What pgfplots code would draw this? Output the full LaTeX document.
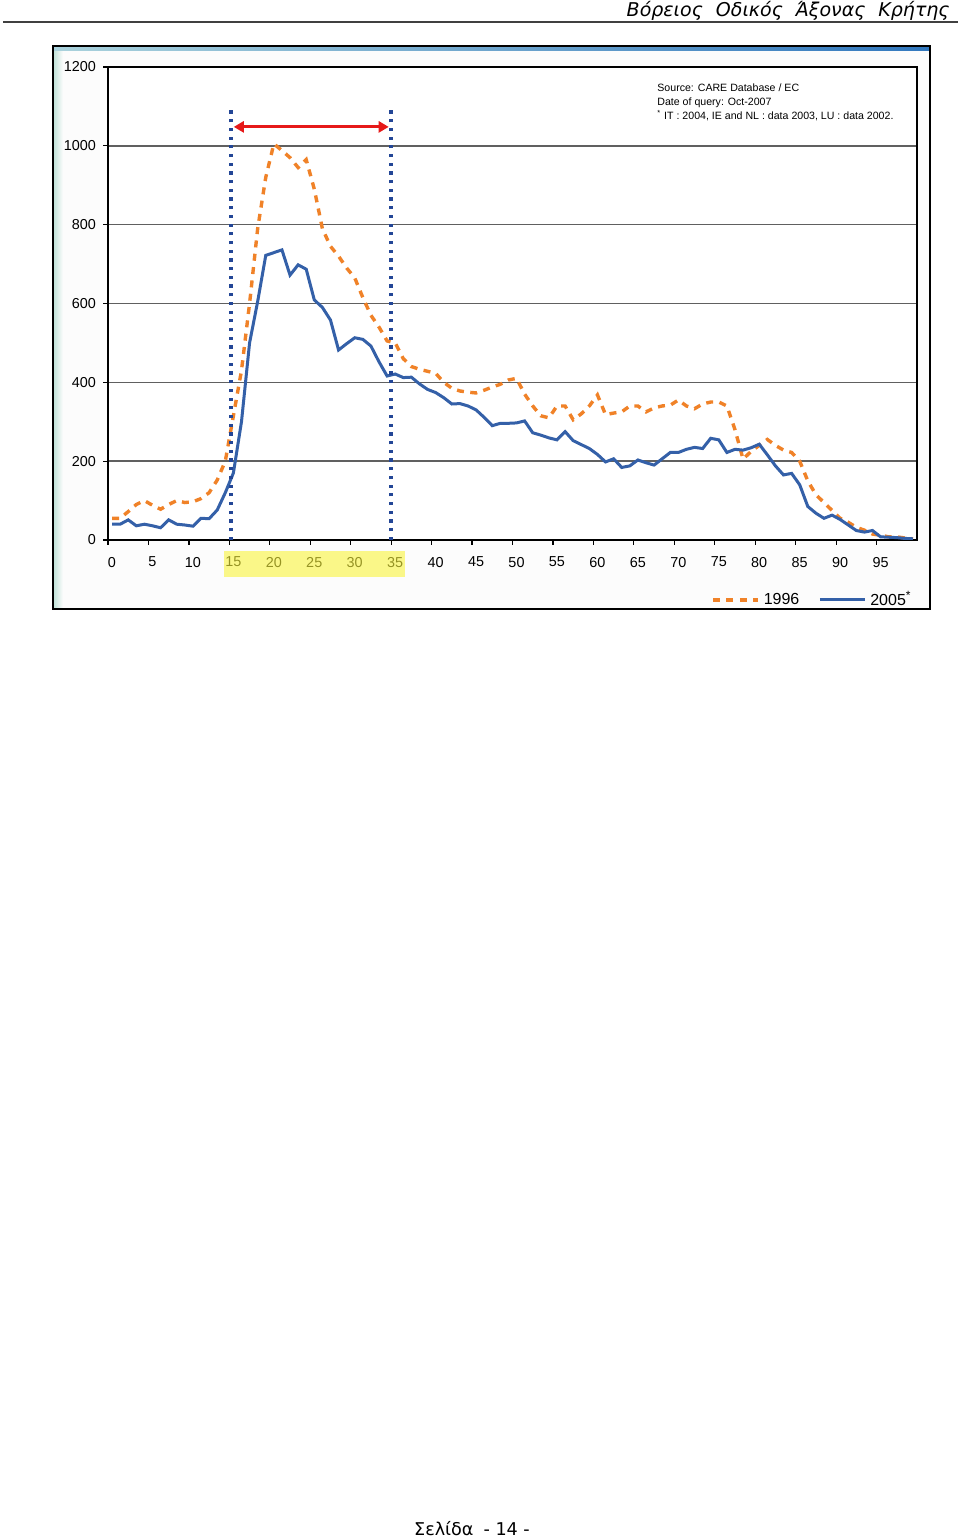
\documentclass[border=0pt]{standalone}
\usepackage{fontspec}
\setmainfont{Liberation Sans}
\newfontfamily\dejavu{DejaVu Sans}
\usepackage{pgfplots}
\pgfplotsset{compat=1.18}
\usetikzlibrary{arrows.meta}
\definecolor{blueline}{RGB}{52,96,168}
\definecolor{orangeline}{RGB}{240,130,40}
\definecolor{dotblue}{RGB}{35,70,150}
\definecolor{arrowred}{RGB}{230,25,25}
\definecolor{barL}{RGB}{170,210,220}
\definecolor{barR}{RGB}{50,120,190}
\definecolor{stripL}{RGB}{195,228,218}
\definecolor{hl}{RGB}{250,245,60}
\begin{document}
\begin{tikzpicture}[x=0.5pt,y=0.5pt]
\fill[white] (0,0) rectangle (960,1540);
% page header
\node[anchor=base east, inner sep=0pt, font=\dejavu\itshape\fontsize{9.5}{11}\selectfont] at (950,1523) {Βόρειος\hspace{6.5pt}Οδικός\hspace{6.5pt}Άξονας\hspace{6.5pt}Κρήτης};
\draw[line width=0.7pt, black!75] (3,1518) -- (958,1518);
% chart frame
\fill[white!98!gray] (53,931) rectangle (930,1494);
\shade[left color=stripL, right color=white!98!gray] (54,932) rectangle (63,1489);
\shade[left color=barL, right color=barR] (54,1489) rectangle (929,1494);
\draw[line width=0.6pt] (53,931) rectangle (930,1494);
\begin{axis}[
  at={(54pt,500pt)}, anchor=south west,
  scale only axis, width=404.5pt, height=236.5pt,
  xmin=0, xmax=100, ymin=0, ymax=1200,
  axis background/.style={fill=white},
  axis line style={line width=0.8pt, black},
  xtick={0,5,...,95}, ytick={0,200,...,1200},
  tick align=outside, major tick length=2.5pt,
  tick style={black, line width=0.6pt},
  xtick pos=bottom, ytick pos=left,
  ymajorgrids, grid style={line width=0.8pt, gray!75!black},
  ticklabel style={font=\fontsize{7.2}{8}\selectfont},
  /pgf/number format/assume math mode=true,
  /pgf/number format/1000 sep={},
  xticklabel style={xshift=2pt, yshift=-2.5pt},
  legend style={at={(axis description cs:1,0)}, anchor=east, yshift=-30pt, xshift=-0.5pt,
    draw=none, fill=none, inner sep=0pt, font=\fontsize{8}{9}\selectfont,
    /tikz/every even column/.append style={column sep=7.5pt}},
  legend columns=2, legend cell align=left,
  legend image code/.code={\draw[#1] (0pt,0pt) -- (22.5pt,0pt);},
]
\addplot[orangeline, line width=1.7pt, dash pattern=on 3.5pt off 3.2pt] coordinates {
(0.5,55)(1.5,55)(2.5,72)(3.5,90)(4.5,100)(5.5,88)(6.5,78)(7.5,90)(8.5,100)(9.5,95)
(10.5,97)(11.5,105)(12.5,120)(13.5,152)(14.5,200)(15.5,315)(16.5,430)(17.5,600)(18.5,790)(19.5,920)
(20.5,1005)(21.5,988)(22.5,970)(23.5,945)(24.5,965)(25.5,890)(26.5,790)(27.5,745)(28.5,720)(29.5,690)
(30.5,665)(31.5,615)(32.5,570)(33.5,540)(34.5,505)(35.5,500)(36.5,460)(37.5,440)(38.5,433)(39.5,428)
(40.5,423)(41.5,400)(42.5,385)(43.5,378)(44.5,375)(45.5,373)(46.5,380)(47.5,388)(48.5,395)(49.5,406)
(50.5,410)(51.5,370)(52.5,340)(53.5,315)(54.5,310)(55.5,340)(56.5,340)(57.5,305)(58.5,320)(59.5,340)
(60.5,368)(61.5,318)(62.5,322)(63.5,325)(64.5,340)(65.5,340)(66.5,325)(67.5,335)(68.5,340)(69.5,342)
(70.5,355)(71.5,340)(72.5,333)(73.5,345)(74.5,350)(75.5,350)(76.5,340)(77.5,280)(78.5,205)(79.5,225)
(80.5,240)(81.5,255)(82.5,240)(83.5,228)(84.5,222)(85.5,200)(86.5,150)(87.5,115)(88.5,95)(89.5,75)
(90.5,55)(91.5,45)(92.5,32)(93.5,25)(94.5,15)(95.5,12)(96.5,8)(97.5,8)(98.5,5)(99.5,3)};
\addlegendentry{1996}
\addplot[blueline, line width=1.5pt] coordinates {
(0.5,40)(1.5,40)(2.5,51)(3.5,36)(4.5,40)(5.5,36)(6.5,31)(7.5,51)(8.5,40)(9.5,38)
(10.5,35)(11.5,55)(12.5,54)(13.5,76)(14.5,120)(15.5,170)(16.5,300)(17.5,500)(18.5,605)(19.5,722)
(20.5,729)(21.5,736)(22.5,672)(23.5,698)(24.5,687)(25.5,609)(26.5,590)(27.5,558)(28.5,482)(29.5,498)
(30.5,513)(31.5,509)(32.5,492)(33.5,452)(34.5,416)(35.5,421)(36.5,412)(37.5,413)(38.5,396)(39.5,382)
(40.5,374)(41.5,361)(42.5,345)(43.5,346)(44.5,340)(45.5,330)(46.5,311)(47.5,290)(48.5,296)(49.5,296)
(50.5,297)(51.5,302)(52.5,272)(53.5,266)(54.5,259)(55.5,254)(56.5,275)(57.5,252)(58.5,242)(59.5,232)
(60.5,217)(61.5,198)(62.5,206)(63.5,184)(64.5,188)(65.5,203)(66.5,196)(67.5,190)(68.5,206)(69.5,222)
(70.5,222)(71.5,230)(72.5,235)(73.5,232)(74.5,258)(75.5,254)(76.5,222)(77.5,230)(78.5,228)(79.5,234)
(80.5,243)(81.5,216)(82.5,188)(83.5,165)(84.5,169)(85.5,140)(86.5,85)(87.5,68)(88.5,55)(89.5,63)
(90.5,52)(91.5,38)(92.5,24)(93.5,20)(94.5,24)(95.5,8)(96.5,7)(97.5,6)(98.5,4)(99.5,3)};
\addlegendentry{2005\textsuperscript{*}}
\draw[dotblue, line width=1.8pt, dash pattern=on 1.6pt off 2.75pt] (axis cs:15.2,0) -- (axis cs:15.2,1090);
\draw[dotblue, line width=1.8pt, dash pattern=on 1.6pt off 2.75pt] (axis cs:35,0) -- (axis cs:35,1090);
\draw[arrowred, line width=1.5pt, {Triangle[length=5pt,width=5.5pt]}-{Triangle[length=5pt,width=5.5pt]}] (axis cs:15.55,1048) -- (axis cs:34.7,1048);
\end{axis}
% highlight over labels 15-35
\fill[hl, opacity=0.6] (224,963) rectangle (405,989);
% source note
\node[anchor=north west, align=left, inner sep=0pt, font=\fontsize{5.3}{7.2}\selectfont] at (657,1457) {Source: CARE Database / EC\\Date of query: Oct-2007\\\textsuperscript{*} IT : 2004, IE and NL : data 2003, LU : data 2002.};
% page footer
\node[anchor=base, inner sep=0pt, font=\dejavu\fontsize{8.8}{10}\selectfont] at (472,4) {Σελίδα\hspace{5pt}- 14 -};
\end{tikzpicture}
\end{document}
